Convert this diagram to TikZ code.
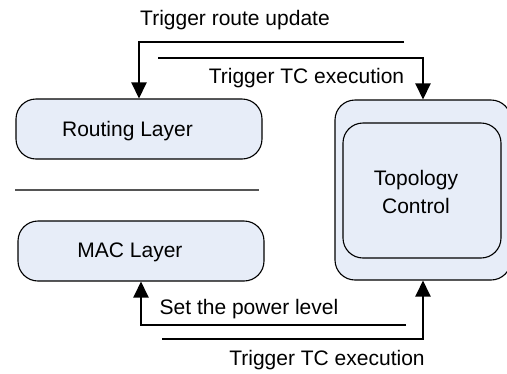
\documentclass[tikz,border=0pt]{standalone}
\usepackage{fontspec}
\setmainfont{Liberation Sans}
\usetikzlibrary{arrows.meta}
\definecolor{layerfill}{RGB}{231,237,248}
\definecolor{sepgray}{RGB}{85,85,85}
\begin{document}
\begin{tikzpicture}[x=1pt,y=-1pt,
    layer/.style={draw,line width=1.1pt,fill=layerfill,rounded corners=20pt,inner sep=0pt},
    msg/.style={line width=2.5pt,-{Triangle[width=15pt,length=16pt]}},
    lbl/.style={anchor=base,inner sep=0pt,font=\fontsize{21}{28}\selectfont}]
  \clip (0,0) rectangle (507,373);
  % layers and the topology control block
  \node[layer,minimum width=246pt,minimum height=60pt] (routing) at (139,129) {};
  \node[layer,minimum width=246pt,minimum height=60pt] (mac) at (141,251) {};
  \node[layer,minimum width=176pt,minimum height=180pt] (tc) at (423,190) {};
  \node[layer,minimum width=158pt,minimum height=135pt] (tcin) at (422,190.5) {};
  \node[lbl] (routingtxt) at (127.5,136) {Routing Layer};
  \node[lbl] (mactxt) at (130,257) {MAC Layer};
  \node[lbl,anchor=center,align=center] (tctxt) at (416,191.5) {Topology\\Control};
  \draw[sepgray,line width=2pt] (15,190) -- (259,190);
  % messages
  \coordinate (rtstart) at (404,42);
  \coordinate (tcstart) at (158,58);
  \coordinate (pwstart) at (406,325);
  \coordinate (tcstartb) at (162,339);
  \draw[msg] (rtstart) -| (routing.north);
  \draw[msg] (tcstart) -| (tc.north);
  \draw[msg] (pwstart) -| (mac.south);
  \draw[msg] (tcstartb) -| (tc.south);
  \node[lbl] (rtlabel) at (235,25) {Trigger route update};
  \node[lbl] (tclabel) at (306.5,83) {Trigger TC execution};
  \node[lbl] (pwlabel) at (249,314) {Set the power level};
  \node[lbl] (tclabelb) at (327,365) {Trigger TC execution};
\end{tikzpicture}
\end{document}
